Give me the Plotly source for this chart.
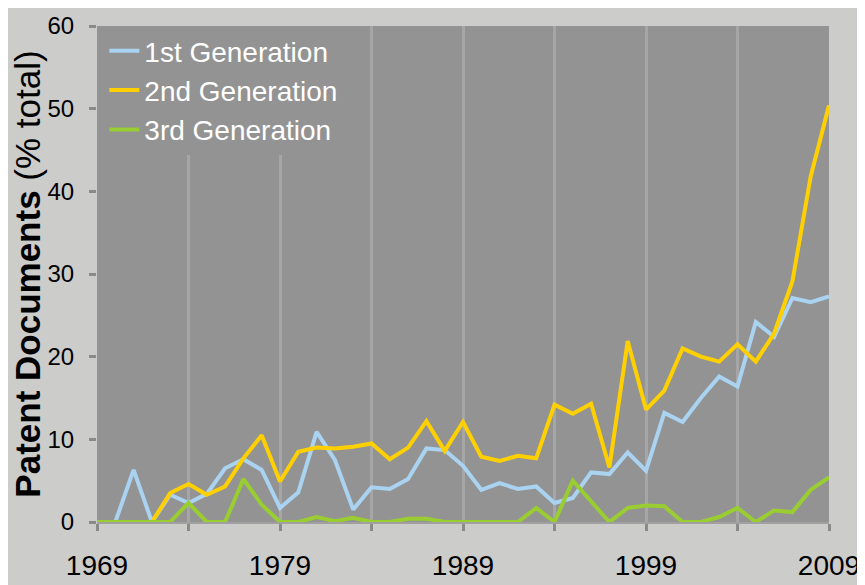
import plotly.graph_objects as go

# years on the x axis, one point per year
years = list(range(1969, 2010))

first_gen = [0, 0, 6.3, 0, 3.3, 2.3, 3.4, 6.5, 7.6, 6.3,
             1.7, 3.6, 10.9, 7.5, 1.5, 4.2, 4.0, 5.2, 8.9, 8.7,
             6.8, 3.9, 4.7, 4.0, 4.3, 2.3, 2.9, 6.0, 5.8, 8.4,
             6.2, 13.2, 12.1, 15.0, 17.6, 16.4, 24.2, 22.4, 27.1, 26.6, 27.3]
second_gen = [0, 0, 0, 0, 3.5, 4.6, 3.3, 4.3, 7.7, 10.5,
              4.9, 8.5, 9.0, 8.9, 9.1, 9.5, 7.6, 9.0, 12.2, 8.6,
              12.1, 7.9, 7.4, 8.0, 7.7, 14.2, 13.1, 14.3, 6.6, 21.9,
              13.6, 15.9, 21.0, 20.0, 19.4, 21.5, 19.4, 22.8, 29.1, 41.8, 50.4]
third_gen = [0, 0, 0, 0, 0, 2.3, 0, 0, 5.2, 2.1,
             0, 0, 0.6, 0.1, 0.5, 0, 0, 0.4, 0.4, 0,
             0, 0, 0, 0, 1.7, 0, 5.0, 2.5, 0, 1.7,
             2.0, 1.9, 0, 0, 0.6, 1.7, 0, 1.4, 1.2, 3.9, 5.4]

series_names = ["1st Generation", "2nd Generation", "3rd Generation"]
series_colors = ["#a9d3f0", "#ffd000", "#9acd32"]

tick_years = [1969, 1974, 1979, 1984, 1989, 1994, 1999, 2004, 2009]
tick_text = ["1969", "", "1979", "", "1989", "", "1999", "", "2009"]

fig = go.Figure()
for i, vals in enumerate([first_gen, second_gen, third_gen]):
    fig.add_trace(go.Scatter(x=years, y=vals, mode="lines", name=series_names[i],
                             legendgroup=str(i),
                             line=dict(color=series_colors[i], width=4)))

plot_bg = "#939393"
# page body margin puts the figure at (8, 8), so size it to fill the rest
fig.update_layout(
    width=857, height=577,
    paper_bgcolor="#cccccb",
    plot_bgcolor=plot_bg,
    margin=dict(l=89, r=36, t=18, b=63),
    font=dict(family="Liberation Sans, Arial", color="black"),
    showlegend=True,
    legend=dict(x=0.01, y=1.0, xanchor="left", yanchor="top",
                bgcolor=plot_bg, borderwidth=0,
                font=dict(size=28, color="white"),
                traceorder="grouped", tracegroupgap=0),
)

fig.update_xaxes(
    range=[1969, 2009], tickvals=tick_years, ticktext=tick_text,
    showgrid=True, gridcolor="#a6a6a6", gridwidth=3,
    ticks="outside", ticklen=7, tickwidth=3, tickcolor="#8a8a8a",
    showline=True, linecolor="#a0a0a0", linewidth=2,
    tickfont=dict(size=28), ticklabelstandoff=10, zeroline=False,
    automargin=False,
)
fig.update_yaxes(
    range=[0, 60], dtick=10, showgrid=False, zeroline=False,
    ticks="outside", ticklen=7, tickwidth=3, tickcolor="#8a8a8a",
    tickfont=dict(size=24), ticklabelstandoff=10, automargin=False,
    title=dict(text="<b>Patent Documents</b> (% total)", font=dict(size=35), standoff=6),
)

fig.write_html("out.html")
